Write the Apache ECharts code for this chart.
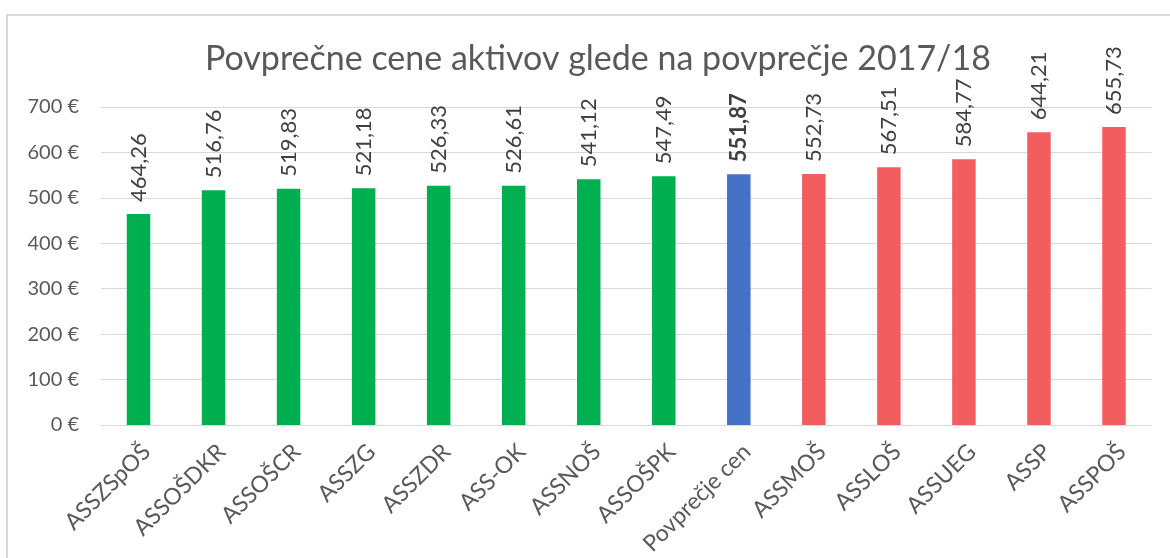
<!DOCTYPE html>
<html>
<head>
<meta charset="utf-8">
<script src="https://cdn.jsdelivr.net/npm/echarts@6/dist/echarts.min.js"></script>
<style>
html,body{margin:0;padding:0;background:#fff;}
#chart{width:1170px;height:558px;}
</style>
</head>
<body>
<div id="chart"></div>
<script>
const titleText = 'Povprečne cene aktivov glede na povprečje 2017/18';
const categories = ['ASSZSpOŠ','ASSOŠDKR','ASSOŠCR','ASSZG','ASSZDR','ASS-OK','ASSNOŠ','ASSOŠPK','Povprečje cen','ASSMOŠ','ASSLOŠ','ASSUEG','ASSP','ASSPOŠ'];
const values = [464.26,516.76,519.83,521.18,526.33,526.61,541.12,547.49,551.87,552.73,567.51,584.77,644.21,655.73];
const groups = ['below','below','below','below','below','below','below','below','avg','above','above','above','above','above'];
const yTicks = [0,100,200,300,400,500,600,700];

const groupColors = {below:'#00B050', avg:'#4472C4', above:'#F25E60'};
const font = 'Lato, "Open Sans", sans-serif';

const chart = echarts.init(document.getElementById('chart'), null, {renderer:'canvas'});
const data = values.map((v,i)=>({
  value: v,
  itemStyle: {color: groupColors[groups[i]]},
  label: groups[i]==='avg' ? {fontWeight:'bold'} : {}
}));
chart.setOption({
  animation:false,
  backgroundColor:'#fff',
  graphic:[{
    type:'rect',
    shape:{x:7,y:15,width:1200,height:600},
    style:{fill:'none',stroke:'#d9d9d9',lineWidth:2},
    silent:true
  }],
  title:{
    text:titleText,
    left:200,
    top:37,
    textStyle:{fontFamily:font,fontSize:34,fontWeight:'normal',color:'#595959'}
  },
  grid:{left:101,right:18.5,top:107,bottom:133,containLabel:false},
  xAxis:{
    type:'category',
    data:categories,
    axisLine:{lineStyle:{color:'#d9d9d9'}},
    axisTick:{show:false},
    axisLabel:{rotate:45,interval:0,margin:15,verticalAlign:'top',fontFamily:font,fontSize:23,color:'#595959'}
  },
  yAxis:{
    type:'value',
    min:yTicks[0],
    max:yTicks[yTicks.length-1],
    interval:100,
    axisLine:{show:false},
    axisTick:{show:false},
    splitLine:{lineStyle:{color:'#d9d9d9'}},
    axisLabel:{margin:22,fontFamily:font,fontSize:20,color:'#595959',formatter:v=>v+' €'}
  },
  series:[{
    type:'bar',
    data:data,
    barWidth:23.5,
    label:{
      show:true,
      position:'top',
      rotate:90,
      align:'left',
      verticalAlign:'middle',
      distance:12,
      fontFamily:font,
      fontSize:22,
      color:'#404040',
      formatter:p=>p.value.toFixed(2).replace('.',',')
    }
  }]
});
</script>
</body>
</html>
